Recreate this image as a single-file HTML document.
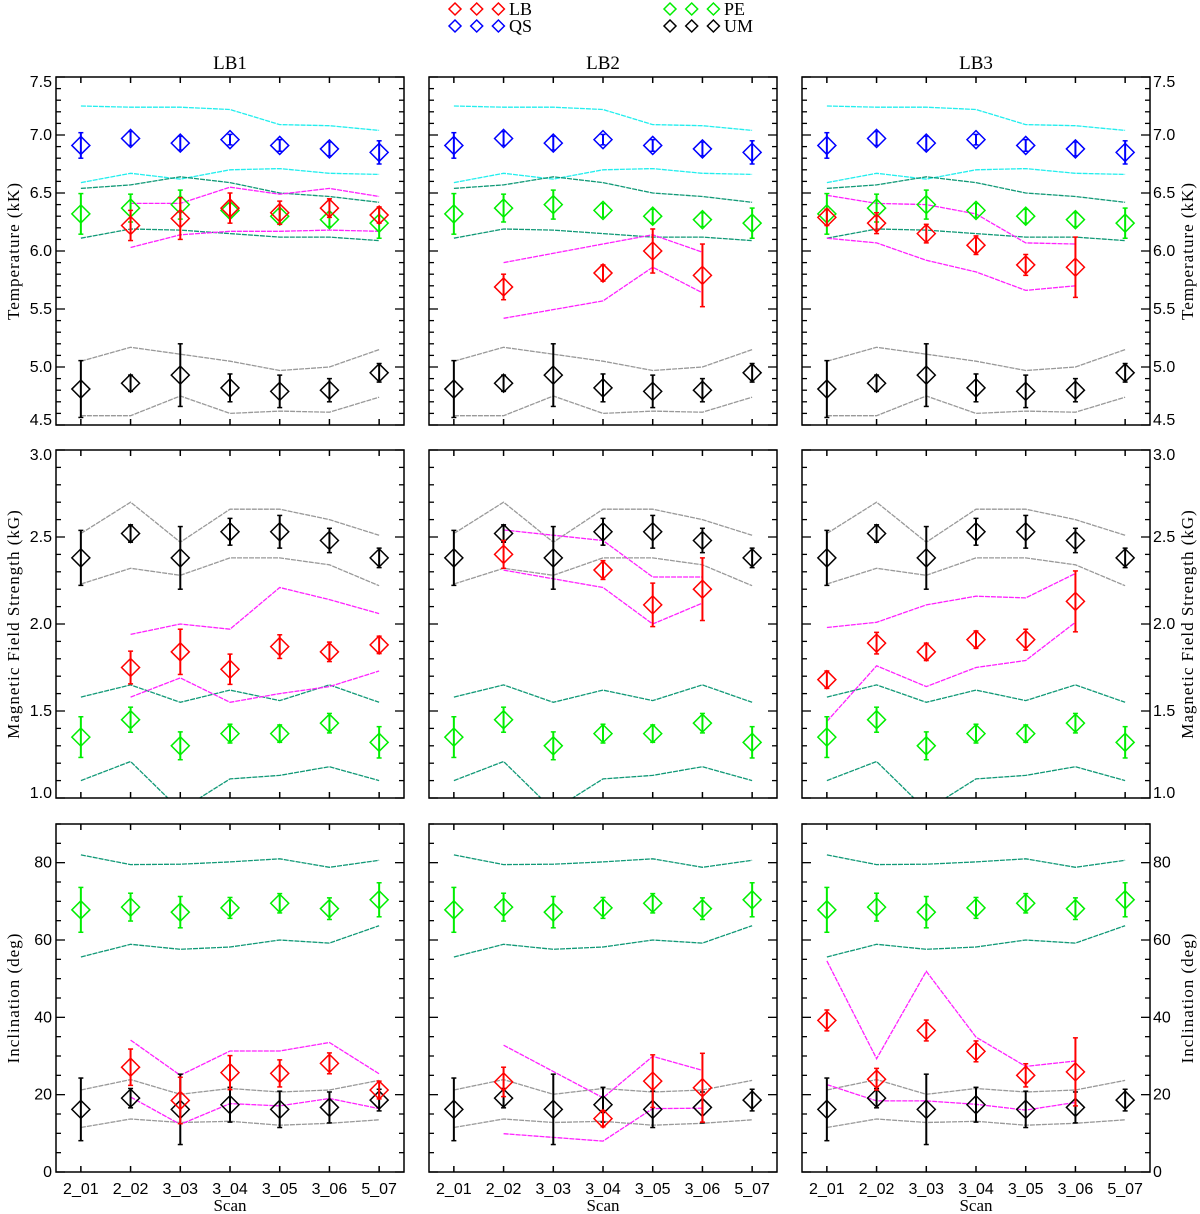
<!DOCTYPE html>
<html><head><meta charset="utf-8">
<style>
html,body{margin:0;padding:0;background:#fff;}
svg{display:block;}
text{fill:#000;}
.tk{font-family:"Liberation Sans",sans-serif;font-size:16px;}
.sf{font-family:"Liberation Serif",serif;}
</style></head>
<body>
<svg id="chart" width="1200" height="1214" viewBox="0 0 1200 1214" xmlns="http://www.w3.org/2000/svg"></svg>
<script>
// ---------- data ----------
const scans = ["2_01","2_02","3_03","3_04","3_05","3_06","5_07"];
const panelTitles = ["LB1","LB2","LB3"];
const rowTitles = ["Temperature (kK)","Magnetic Field Strength (kG)","Inclination (deg)"];
const yMin = [4.5, 1.0, 0];
const yMax = [7.5, 3.0, 90];
const yMajor = [0.5, 0.5, 20];
const yMinor = [0.1, 0.1, 5];
const tickLabels0 = ["4.5","5.0","5.5","6.0","6.5","7.0","7.5"];
const tickLabels1 = ["1.0","1.5","2.0","2.5","3.0"];
const tickLabels2 = ["0","20","40","60","80"];

// Temperature (shared references)
const T_QS = [6.91,6.97,6.93,6.96,6.91,6.88,6.85];
const T_QS_err = [0.11,0.06,0.06,0.045,0.05,0.06,0.1];
const T_QS_hi = [7.25,7.24,7.24,7.22,7.09,7.08,7.04];
const T_QS_lo = [6.59,6.67,6.62,6.70,6.71,6.67,6.66];
const T_PE = [6.32,6.37,6.40,6.35,6.30,6.27,6.24];
const T_PE_err = [0.175,0.12,0.125,0.06,0.06,0.06,0.13];
const T_PE_hi = [6.54,6.57,6.64,6.59,6.50,6.47,6.42];
const T_PE_lo = [6.11,6.19,6.18,6.15,6.12,6.12,6.09];
const T_UM = [4.81,4.86,4.93,4.82,4.79,4.80,4.95];
const T_UM_err = [0.245,0.07,0.27,0.12,0.14,0.1,0.08];
const T_UM_hi = [5.05,5.17,5.11,5.05,4.97,5.00,5.15];
const T_UM_lo = [4.58,4.58,4.75,4.60,4.62,4.61,4.74];
// Temperature LB per panel
const T_LB1 = [null,6.22,6.28,6.37,6.33,6.37,6.31];
const T_LB1_err = [null,0.13,0.18,0.13,0.1,0.08,0.07];
const T_LB1_hi = [null,6.41,6.41,6.55,6.49,6.54,6.47];
const T_LB1_lo = [null,6.03,6.14,6.17,6.17,6.18,6.17];
const T_LB2 = [null,5.69,null,5.81,6.00,5.79,null];
const T_LB2_err = [null,0.11,null,0.07,0.19,0.27,null];
const T_LB2_hi = [null,5.90,null,6.06,6.14,5.99,null];
const T_LB2_lo = [null,5.42,null,5.57,5.86,5.64,null];
const T_LB3 = [6.29,6.24,6.15,6.05,5.88,5.86,null];
const T_LB3_err = [0.07,0.09,0.08,0.08,0.09,0.26,null];
const T_LB3_hi = [6.48,6.41,6.40,6.32,6.07,6.06,null];
const T_LB3_lo = [6.11,6.07,5.92,5.82,5.66,5.70,null];

// Magnetic field
const B_PE = [1.35,1.45,1.30,1.37,1.37,1.43,1.32];
const B_PE_err = [0.117,0.072,0.08,0.054,0.05,0.056,0.09];
const B_PE_hi = [1.58,1.65,1.55,1.62,1.56,1.65,1.55];
const B_PE_lo = [1.10,1.21,0.93,1.11,1.13,1.18,1.10];
const B_UM = [2.38,2.52,2.38,2.53,2.53,2.48,2.38];
const B_UM_err = [0.158,0.05,0.18,0.077,0.094,0.07,0.056];
const B_UM_hi = [2.52,2.70,2.47,2.66,2.66,2.60,2.51];
const B_UM_lo = [2.23,2.32,2.28,2.38,2.38,2.34,2.22];
const B_LB1 = [null,1.75,1.84,1.74,1.87,1.84,1.88];
const B_LB1_err = [null,0.094,0.13,0.087,0.068,0.056,0.05];
const B_LB1_hi = [null,1.94,2.00,1.97,2.21,2.14,2.06];
const B_LB1_lo = [null,1.58,1.69,1.55,1.60,1.64,1.73];
const B_LB2 = [null,2.40,null,2.31,2.11,2.20,null];
const B_LB2_err = [null,0.08,null,0.054,0.125,0.18,null];
const B_LB2_hi = [null,2.54,null,2.48,2.27,2.27,null];
const B_LB2_lo = [null,2.31,null,2.21,2.00,2.12,null];
const B_LB3 = [1.68,1.89,1.84,1.91,1.91,2.13,null];
const B_LB3_err = [0.05,0.062,0.05,0.05,0.06,0.175,null];
const B_LB3_hi = [1.98,2.01,2.11,2.16,2.15,2.29,null];
const B_LB3_lo = [1.44,1.76,1.64,1.75,1.79,2.01,null];

// Inclination
const I_PE = [67.8,68.5,67.2,68.3,69.5,68.1,70.4];
const I_PE_err = [5.8,3.6,4.05,2.7,2.5,2.8,4.4];
const I_PE_hi = [82.0,79.5,79.6,80.2,81.0,78.8,80.6];
const I_PE_lo = [55.6,58.9,57.6,58.2,60.0,59.2,63.7];
const I_UM = [16.2,19.1,16.2,17.4,16.2,16.7,18.6];
const I_UM_err = [8.1,2.5,9.1,4.5,4.7,4.0,2.8];
const I_UM_hi = [21.2,23.9,20.1,21.6,20.7,21.2,23.7];
const I_UM_lo = [11.5,13.7,12.8,13.1,12.1,12.6,13.5];
const I_LB1 = [null,27.1,18.5,25.7,25.5,28.1,21.2];
const I_LB1_err = [null,4.7,6.0,4.4,3.5,2.7,2.3];
const I_LB1_hi = [null,34.1,25.0,31.3,31.3,33.5,25.4];
const I_LB1_lo = [null,19.4,12.3,17.7,17.1,19.0,16.4];
const I_LB2 = [null,23.3,null,13.8,23.5,21.8,null];
const I_LB2_err = [null,3.8,null,2.1,6.8,8.9,null];
const I_LB2_hi = [null,32.8,null,19.2,29.9,26.3,null];
const I_LB2_lo = [null,9.9,null,8.0,16.4,16.5,null];
const I_LB3 = [39.2,24.0,36.6,31.2,25.0,25.9,null];
const I_LB3_err = [2.7,2.8,2.7,2.7,3.0,8.8,null];
const I_LB3_hi = [54.6,29.3,51.9,34.9,27.3,28.7,null];
const I_LB3_lo = [22.6,18.4,18.4,17.5,16.0,18.0,null];

// ---------- drawing ----------
const NS = "http://www.w3.org/2000/svg";
const svg = document.getElementById("chart");
const PX = [56, 429, 802], PY = [77, 450, 824], PW = 348, PH = 348;
const RED="#ff0000", BLUE="#0000ff", GREEN="#00ee00", BLACK="#000000";
const CYAN="#22eeee", TEAL="#119977", MAG="#ff22ff", GRAY="#999999";

function mk(tag, attrs, parent){
  const e = document.createElementNS(NS, tag);
  for (const k in attrs) e.setAttribute(k, attrs[k]);
  (parent||svg).appendChild(e);
  return e;
}
function xScale(col, i){ return PX[col] + PW*(i+0.5)/scans.length; }
function yScale(row, v){ return PY[row] + PH*(yMax[row]-v)/(yMax[row]-yMin[row]); }

const defs = mk("defs", {});
for (let r=0;r<3;r++) for (let c=0;c<3;c++){
  const cp = mk("clipPath", {id:"clip"+r+c}, defs);
  mk("rect", {x:PX[c], y:PY[r], width:PW, height:PH}, cp);
}

function drawLine(g, row, col, vals, color, name){
  let pts = [];
  for (let i=0;i<vals.length;i++){
    if (vals[i]===null) continue;
    pts.push(xScale(col,i).toFixed(1)+","+yScale(row,vals[i]).toFixed(1));
  }
  const p = mk("polyline", {points:pts.join(" "), fill:"none", stroke:color, "stroke-width":1.3, "stroke-dasharray":"5 1", "clip-path":"url(#clip"+row+col+")"}, g);
  
  
}
function drawPoints(g, row, col, vals, errs, color, name){
  for (let i=0;i<vals.length;i++){
    if (vals[i]===null) continue;
    const x = xScale(col,i), y = yScale(row,vals[i]);
    const y1 = yScale(row, vals[i]+errs[i]), y2 = yScale(row, vals[i]-errs[i]);
    const eg = mk("g", {"clip-path":"url(#clip"+row+col+")"}, g);
    
    
    mk("line", {x1:x, y1:y1, x2:x, y2:y2, stroke:color, "stroke-width":2}, eg);
    mk("line", {x1:x-2.5, y1:y1, x2:x+2.5, y2:y1, stroke:color, "stroke-width":1.5}, eg);
    mk("line", {x1:x-2.5, y1:y2, x2:x+2.5, y2:y2, stroke:color, "stroke-width":1.5}, eg);
    const d = 9;
    mk("polygon", {points:`${x},${y-d} ${x+d},${y} ${x},${y+d} ${x-d},${y}`, fill:"none", stroke:color, "stroke-width":1.5}, eg);
  }
}

const rowData = [
  {ref:[[T_QS_hi,CYAN],[T_QS_lo,CYAN],[T_PE_hi,TEAL],[T_PE_lo,TEAL],[T_UM_hi,GRAY],[T_UM_lo,GRAY]],
   pts:[[T_QS,T_QS_err,BLUE,"qs"],[T_PE,T_PE_err,GREEN,"pe"],[T_UM,T_UM_err,BLACK,"um"]],
   lb:[[T_LB1,T_LB1_err,T_LB1_hi,T_LB1_lo],[T_LB2,T_LB2_err,T_LB2_hi,T_LB2_lo],[T_LB3,T_LB3_err,T_LB3_hi,T_LB3_lo]],
   labels:tickLabels0},
  {ref:[[B_PE_hi,TEAL],[B_PE_lo,TEAL],[B_UM_hi,GRAY],[B_UM_lo,GRAY]],
   pts:[[B_PE,B_PE_err,GREEN,"pe"],[B_UM,B_UM_err,BLACK,"um"]],
   lb:[[B_LB1,B_LB1_err,B_LB1_hi,B_LB1_lo],[B_LB2,B_LB2_err,B_LB2_hi,B_LB2_lo],[B_LB3,B_LB3_err,B_LB3_hi,B_LB3_lo]],
   labels:tickLabels1},
  {ref:[[I_PE_hi,TEAL],[I_PE_lo,TEAL],[I_UM_hi,GRAY],[I_UM_lo,GRAY]],
   pts:[[I_PE,I_PE_err,GREEN,"pe"],[I_UM,I_UM_err,BLACK,"um"]],
   lb:[[I_LB1,I_LB1_err,I_LB1_hi,I_LB1_lo],[I_LB2,I_LB2_err,I_LB2_hi,I_LB2_lo],[I_LB3,I_LB3_err,I_LB3_hi,I_LB3_lo]],
   labels:tickLabels2}
];

for (let r=0;r<3;r++){
  for (let c=0;c<3;c++){
    const g = mk("g", {});
    
    
    const rd = rowData[r];
    rd.ref.forEach((rf,k)=>drawLine(g, r, c, rf[0], rf[1], 'reference-range-line-'+k));
    const lb = rd.lb[c];
    drawLine(g, r, c, lb[2], MAG, 'lb-upper-line');
    drawLine(g, r, c, lb[3], MAG, 'lb-lower-line');
    rd.pts.forEach(p=>drawPoints(g, r, c, p[0], p[1], p[2], p[3]));
    drawPoints(g, r, c, lb[0], lb[1], RED, 'lb');
    const fr = mk("rect", {x:PX[c], y:PY[r], width:PW, height:PH, fill:"none", stroke:"#000", "stroke-width":1.5}, g);
    
    
    for (let i=0;i<scans.length;i++){
      const x = xScale(c,i);
      mk("line", {x1:x, y1:PY[r]+PH, x2:x, y2:PY[r]+PH-6, stroke:"#000", "stroke-width":1.5}, g);
      mk("line", {x1:x, y1:PY[r], x2:x, y2:PY[r]+6, stroke:"#000", "stroke-width":1.5}, g);
      if (r===2){
        const t = mk("text", {x:x, y:PY[r]+PH+22, "text-anchor":"middle", class:"tk"}, g);
        t.textContent = scans[i];
        
        
      }
    }
    const nMin = Math.round((yMax[r]-yMin[r])/yMinor[r]);
    const ratio = Math.round(yMajor[r]/yMinor[r]);
    for (let k=0;k<=nMin;k++){
      const v = yMin[r]+k*yMinor[r], y = yScale(r,v);
      const L = (k%ratio===0)?9:5;
      mk("line", {x1:PX[c], y1:y, x2:PX[c]+L, y2:y, stroke:"#000", "stroke-width":1.3}, g);
      mk("line", {x1:PX[c]+PW, y1:y, x2:PX[c]+PW-L, y2:y, stroke:"#000", "stroke-width":1.3}, g);
    }
    const labs = rd.labels;
    for (let k=0;k<labs.length;k++){
      const v = yMin[r]+k*yMajor[r], y = yScale(r,v);
      let yy = y+5;
      if (k===labs.length-1 && r<2) yy = y+10;
      if (k===0 && r<2) yy = y;
      if (c===0){
        const t = mk("text", {x:PX[c]-4, y:yy, "text-anchor":"end", class:"tk"}, g);
        t.textContent = labs[k];
        
        
      }
      if (c===2){
        const t = mk("text", {x:PX[c]+PW+3, y:yy, "text-anchor":"start", class:"tk"}, g);
        t.textContent = labs[k];
        
        
      }
    }
  }
  const cy = PY[r]+PH/2;
  const tl = mk("text", {x:0, y:0, transform:`translate(19,${cy}) rotate(-90)`, "text-anchor":"middle", class:"sf", "font-size":"17", "letter-spacing":"1"});
  tl.textContent = rowTitles[r];
  
  
  const tr = mk("text", {x:0, y:0, transform:`translate(1193,${cy}) rotate(-90)`, "text-anchor":"middle", class:"sf", "font-size":"17", "letter-spacing":"1"});
  tr.textContent = rowTitles[r];
  
  
}
for (let c=0;c<3;c++){
  const t = mk("text", {x:PX[c]+PW/2, y:69, "text-anchor":"middle", class:"sf", "font-size":"19"});
  t.textContent = panelTitles[c];
  
  
  const s = mk("text", {x:PX[c]+PW/2, y:1211, "text-anchor":"middle", class:"sf", "font-size":"17"});
  s.textContent = "Scan";
  
  
}
const legendItems = [["LB",RED,455,9],["QS",BLUE,455,26],["PE",GREEN,670,9],["UM",BLACK,670,26]];
legendItems.forEach(it=>{
  const g = mk("g", {});
  
  
  for (let k=0;k<3;k++){
    const x = it[2]+k*21.7, y = it[3], d=6;
    mk("polygon", {points:`${x},${y-d} ${x+d},${y} ${x},${y+d} ${x-d},${y}`, fill:"none", stroke:it[1], "stroke-width":1.5}, g);
  }
  const t = mk("text", {x:it[2]+54, y:it[3]+6, class:"sf", "font-size":"18"}, g);
  t.textContent = it[0];
});
</script>
</body></html>
